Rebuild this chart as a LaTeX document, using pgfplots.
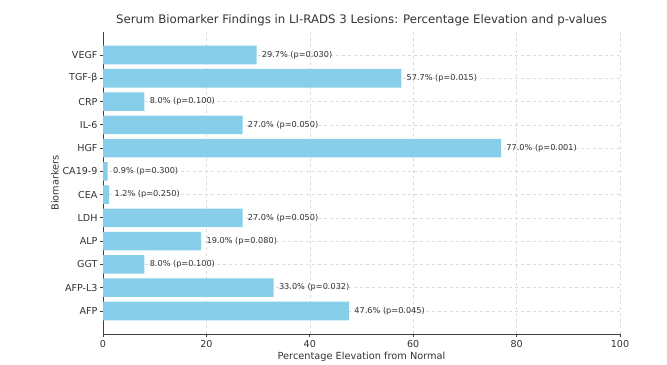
\documentclass[border=0pt]{standalone}
\usepackage{fontspec}
\setmainfont{DejaVu Sans}
\usepackage{pgfplots}
\pgfplotsset{compat=1.18}
\usepackage{pgfplotstable}
\definecolor{sky}{HTML}{87CEEB}
\definecolor{txt}{HTML}{333333}
\definecolor{gridc}{HTML}{DADADA}

\pgfplotstableread{
y x p
0 47.6 0.045
1 33.0 0.032
2 8.0 0.100
3 19.0 0.080
4 27.0 0.050
5 1.2 0.250
6 0.9 0.300
7 77.0 0.001
8 27.0 0.050
9 8.0 0.100
10 57.7 0.015
11 29.7 0.030
}\data

\begin{document}
\begin{tikzpicture}
\path[use as bounding box] (0,0) rectangle (667bp,365bp);
\begin{axis}[
  at={(103bp,31bp)}, anchor=south west,
  scale only axis, width=517bp, height=302bp,
  xmin=0, xmax=100, ymin=-0.99, ymax=11.99,
  xbar, bar width=18.6bp,
  axis x line*=bottom, axis y line*=left,
  axis line style={black!75, line width=0.8bp},
  xtick={0,20,...,100},
  ytick={0,...,11},
  yticklabels={AFP,AFP-L3,GGT,ALP,LDH,CEA,CA19-9,HGF,IL-6,CRP,TGF-β,VEGF},
  tick align=outside,
  major tick length=3.5bp,
  tick style={black!75, line width=0.8bp},
  grid=major,
  grid style={gridc, dashed, line width=0.5bp},
  ticklabel style={font=\fontsize{9.6}{11}\selectfont, text=txt},
  xticklabel style={yshift=1bp},
  yticklabel style={xshift=1.5bp},
  /pgf/number format/assume math mode=true,
  xlabel={Percentage Elevation from Normal},
  ylabel={Biomarkers},
  label style={font=\fontsize{9.8}{11}\selectfont, text=txt},
  xlabel style={at={(axis description cs:0.5,0)}, anchor=north, yshift=-15bp},
  ylabel style={at={(axis description cs:-0.093,0.5)}, anchor=center},
  title={Serum Biomarker Findings in LI-RADS 3 Lesions: Percentage Elevation and p-values},
  title style={font=\fontsize{11.8}{13}\selectfont, text=txt, yshift=-3bp},
  nodes near coords={\pgfmathprintnumber[fixed,zerofill,precision=1]{\pgfplotspointmeta}\% (p=\pgfmathprintnumber[fixed,zerofill,precision=3]{\pval})},
  point meta=x,
  visualization depends on={\thisrow{p} \as \pval},
  nodes near coords style={font=\fontsize{8.2}{10}\selectfont, text=txt, anchor=west, inner sep=0pt, xshift=5.2bp},
]
\addplot[fill=sky, draw=none] table[x=x, y=y] {\data};
\end{axis}
\end{tikzpicture}
\end{document}
